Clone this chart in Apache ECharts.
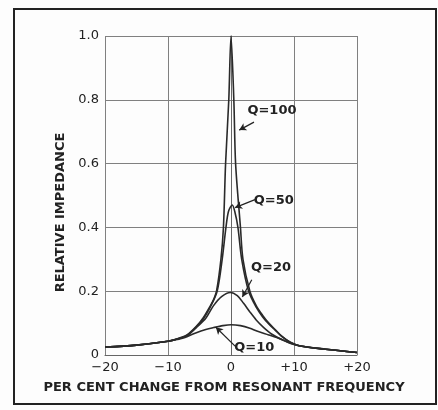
<!DOCTYPE html>
<html>
<head>
<meta charset="utf-8">
<script src="https://cdn.jsdelivr.net/npm/echarts@6/dist/echarts.min.js"></script>
<style>
html,body{margin:0;padding:0;background:#fdfdfd;}
#c{width:438px;height:410px;}
</style>
</head>
<body>
<div id="c"></div>
<script>
// Data: [per cent change, relative impedance]
var q100 = [[-20,0.025],[-15,0.031],[-10,0.043],[-8.5,0.051],[-7,0.063],[-5.5,0.09],[-4.4,0.117],[-3.4,0.15],[-2.8,0.172],[-2.3,0.2],[-1.6,0.3],[-1.2,0.4],[-0.86,0.6],[-0.35,0.8],[0,1.0],[0.45,0.8],[0.73,0.6],[1.5,0.4],[1.9,0.3],[3.0,0.2],[4,0.155],[5,0.125],[6,0.1],[7,0.08],[8,0.06],[9.4,0.04],[11,0.028],[15,0.018],[20,0.008]];
var q50 = [[-20,0.025],[-15,0.031],[-10,0.043],[-8.5,0.05],[-7,0.061],[-5.5,0.088],[-4.4,0.113],[-3.3,0.15],[-2.2,0.2],[-1.4,0.3],[-0.8,0.4],[-0.4,0.45],[0.2,0.47],[0.6,0.45],[1.1,0.4],[1.7,0.3],[2.8,0.2],[4,0.15],[5,0.12],[6,0.097],[7,0.078],[8,0.059],[9.4,0.04],[11,0.028],[15,0.018],[20,0.008]];
var q20 = [[-20,0.025],[-15,0.031],[-10,0.043],[-8.5,0.05],[-7,0.06],[-5.5,0.086],[-4,0.115],[-2.8,0.154],[-1.5,0.183],[-0.1,0.196],[1,0.186],[2,0.162],[3,0.135],[4,0.11],[5.2,0.086],[6.5,0.065],[8.3,0.046],[9.5,0.037],[11,0.028],[15,0.018],[20,0.008]];
var q10 = [[-20,0.025],[-15,0.031],[-10,0.043],[-8.5,0.049],[-7.3,0.055],[-5.5,0.07],[-4,0.08],[-2.75,0.086],[-1.3,0.092],[0,0.095],[1.5,0.092],[3,0.084],[4.1,0.075],[6,0.063],[7.8,0.051],[9,0.04],[10,0.033],[11,0.028],[15,0.018],[20,0.008]];
var seriesNames = ['Q=100','Q=50','Q=20','Q=10'];
var xTicks = [-20,-10,0,10,20];
var yTicks = [0,0.2,0.4,0.6,0.8,1.0];
// annotation layout (label centre, leader start, leader end) in data units
var notes = [
  {label:[6.5,0.767], from:[3.65,0.73], to:[1.3,0.705]},
  {label:[6.8,0.484], from:[3.8,0.487], to:[0.65,0.462]},
  {label:[6.35,0.274], from:[3.3,0.236], to:[1.8,0.182]},
  {label:[3.7,0.022], from:[0.65,0.028], to:[-2.4,0.087]}
];

var FONT = 'DejaVu Sans';
var dataSets = [q100,q50,q20,q10];
var series = dataSets.map(function(d,i){
  var n = notes[i];
  return {
    name: seriesNames[i], type:'line', data:d, showSymbol:false, smooth:0.3,
    lineStyle:{color:'#2a2a2a', width:1.6},
    markPoint:{symbol:'circle', symbolSize:0, silent:true,
      label:{show:true, formatter:seriesNames[i], color:'#222', fontFamily:FONT, fontSize:13, fontWeight:'bold', position:'inside'},
      data:[{coord:n.label}]},
    markLine:{silent:true, symbol:['none','arrow'], symbolSize:[6,7],
      lineStyle:{color:'#222', width:1.2, type:'solid'}, label:{show:false},
      data:[[{coord:n.from},{coord:n.to}]]}
  };
});

var chart = echarts.init(document.getElementById('c'), null, {renderer:'canvas'});
chart.setOption({
  animation:false,
  backgroundColor:'#fdfdfd',
  grid:{left:105, right:81, top:36, bottom:55},
  xAxis:{type:'value', min:-20, max:20, interval:10,
    name:'PER CENT CHANGE FROM RESONANT FREQUENCY', nameLocation:'middle', nameGap:26,
    nameTextStyle:{fontFamily:FONT, fontSize:13, color:'#222', fontWeight:'bold', padding:[0,14,0,0]},
    axisLine:{show:true, lineStyle:{color:'#666', width:1}}, axisTick:{show:false},
    splitLine:{show:true, lineStyle:{color:'#808080', width:1}},
    axisLabel:{fontFamily:FONT, fontSize:13, color:'#222', margin:6,
      formatter:function(v){ return v>0 ? '+'+v : (v<0 ? '\u2212'+Math.abs(v) : '0'); }}
  },
  yAxis:{type:'value', min:0, max:1.0, interval:0.2,
    name:'RELATIVE IMPEDANCE', nameLocation:'middle', nameGap:28,
    nameTextStyle:{fontFamily:FONT, fontSize:13, color:'#222', fontWeight:'bold', padding:[0,34,0,0]},
    axisLine:{show:true, lineStyle:{color:'#666', width:1}}, axisTick:{show:false},
    splitLine:{show:true, lineStyle:{color:'#808080', width:1}},
    axisLabel:{fontFamily:FONT, fontSize:13, color:'#222', margin:6,
      formatter:function(v){ return v===0 ? '0' : v.toFixed(1); }}
  },
  graphic:[{type:'rect', shape:{x:14, y:9, width:422, height:395}, silent:true,
    style:{fill:'none', stroke:'#222', lineWidth:2}}],
  series:series
});
</script>
</body>
</html>
